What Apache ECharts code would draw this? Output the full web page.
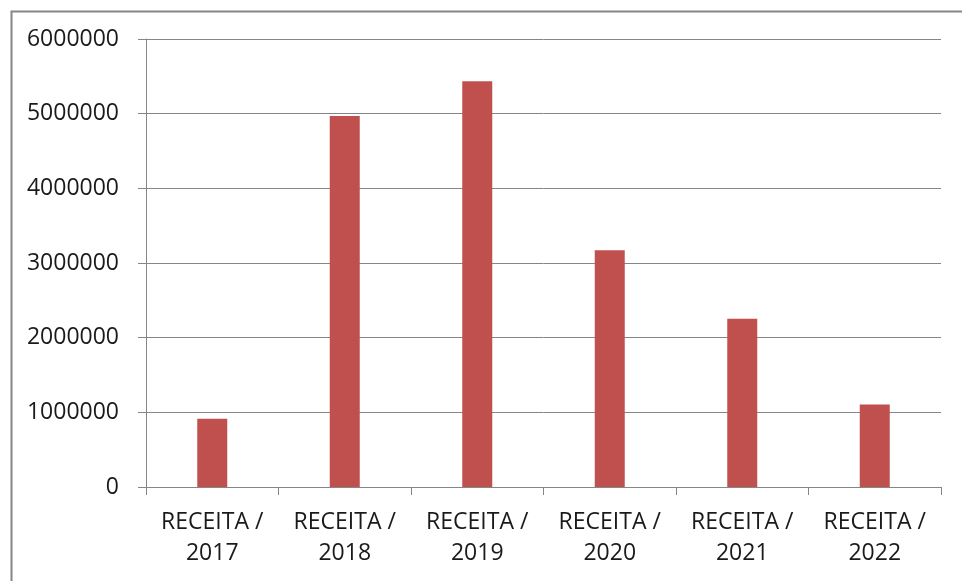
<!DOCTYPE html>
<html>
<head>
<meta charset="utf-8">
<script src="https://cdn.jsdelivr.net/npm/echarts@6/dist/echarts.min.js"></script>
<style>
html,body{margin:0;padding:0;background:#fff;}
#chart{width:962px;height:581px;}
</style>
</head>
<body>
<div id="chart"></div>
<script>
var categories = ['RECEITA / 2017','RECEITA / 2018','RECEITA / 2019','RECEITA / 2020','RECEITA / 2021','RECEITA / 2022'];
var receita = [915000, 4970000, 5435000, 3170000, 2255000, 1105000];
var yTicks = {min: 0, max: 6000000, interval: 1000000};

var chart = echarts.init(document.getElementById('chart'), null, {renderer: 'canvas'});
var FONT = '"Open Sans", "Liberation Sans", sans-serif';
chart.setOption({
  animation: false,
  backgroundColor: '#ffffff',
  graphic: [{
    type: 'rect',
    left: 9, top: 9,
    shape: {width: 1000, height: 1000},
    style: {fill: 'none', stroke: '#868686', lineWidth: 2},
    silent: true
  }],
  grid: {left: 146, right: 21, top: 39, bottom: 94, containLabel: false},
  xAxis: {
    type: 'category',
    data: categories,
    axisLine: {show: true, lineStyle: {color: '#868686', width: 1}},
    axisTick: {show: true, length: 8, lineStyle: {color: '#868686'}},
    axisLabel: {
      color: '#1a1a1a', fontFamily: FONT, fontSize: 23, lineHeight: 31, margin: 20,
      interval: 0,
      formatter: function (v) { return v.replace(' / ', ' /\n'); }
    },
    splitLine: {show: false}
  },
  yAxis: {
    type: 'value',
    min: yTicks.min, max: yTicks.max, interval: yTicks.interval,
    axisLine: {show: true, lineStyle: {color: '#868686', width: 1}},
    axisTick: {show: true, length: 8, lineStyle: {color: '#868686'}},
    axisLabel: {
      color: '#1a1a1a', fontFamily: FONT, fontSize: 23, margin: 27,
      formatter: function (v) { return String(v); }
    },
    splitLine: {show: true, lineStyle: {color: '#868686', width: 1}}
  },
  series: [{
    type: 'bar',
    data: receita,
    barWidth: 30,
    itemStyle: {color: '#C0504D'}
  }]
});
</script>
</body>
</html>
